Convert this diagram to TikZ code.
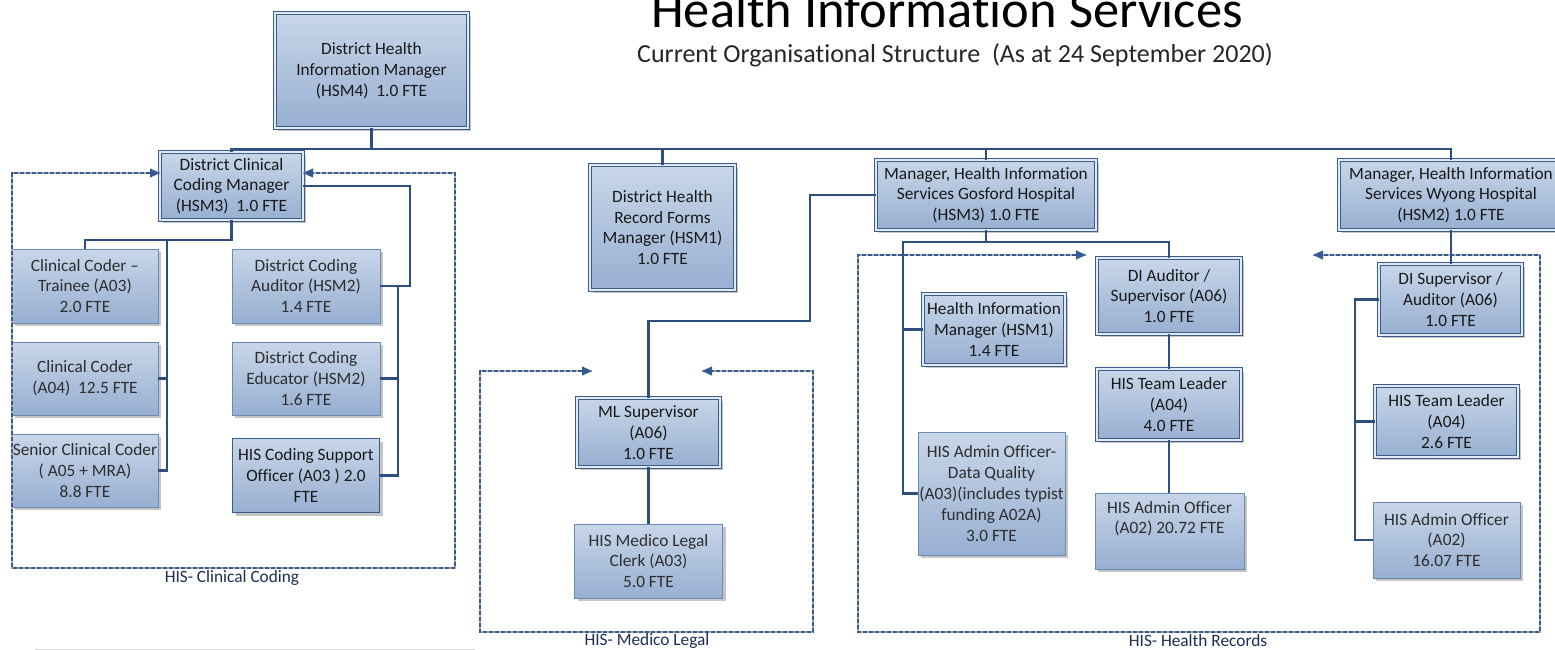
\documentclass[tikz,border=0pt]{standalone}
\usepackage{fontspec}
\setmainfont[Ligatures={TeX,NoCommon}]{Carlito}
\usetikzlibrary{arrows.meta,shadows}
\definecolor{topc}{HTML}{C8D6E9}
\definecolor{botc}{HTML}{97AFD1}
\definecolor{bordc}{HTML}{6A89B5}
\definecolor{darkb}{HTML}{3A5C8C}
\definecolor{linec}{HTML}{2C4F80}
\definecolor{dashc}{HTML}{355A92}
\definecolor{txtc}{HTML}{2E2E2E}
\definecolor{labc}{HTML}{1F2D55}
\newcommand{\boxfont}{\fontsize{17.3}{20.8}\selectfont}
\begin{document}
\begin{tikzpicture}[x=1pt,y=-1pt,
  unit/.style={inner sep=0pt, outer sep=0pt, align=center, font=\boxfont, text=txtc},
  wh/.style 2 args={minimum width=#1pt, minimum height=#2pt},
  sbox/.style={unit, draw=bordc, line width=0.8pt, top color=topc, bottom color=botc,
     drop shadow={shadow xshift=3pt, shadow yshift=-3pt, fill=black!45, opacity=0.5}},
  dbox/.style={sbox, draw=darkb, line width=0.9pt, double=topc!50!white, double distance=2.2pt, text=black!90},
  kbox/.style={sbox, draw=darkb, line width=1.4pt, text=black!90},
  conn/.style={draw=linec, line width=2.6pt},
  dframe/.style={draw=dashc, line width=1.1pt, dash pattern=on 4pt off 2pt,
     {Triangle[length=10pt,width=9pt]}-{Triangle[length=10pt,width=9pt]}},
  dshade/.style={draw=black!30, line width=1.1pt, dash pattern=on 4pt off 2pt, shift={(1.5,1.5)}},
  grp/.style={font=\fontsize{17.3}{20}\selectfont, text=labc, inner sep=0pt}
]
\useasboundingbox (0,0) rectangle (1555,650);
\fill[white] (0,0) rectangle (1555,650);

% titles
\node[anchor=base, font=\fontsize{52.5}{60}\selectfont, text=black] (title) at (947,28) {Health Information Services};
\node[anchor=base, font=\fontsize{26}{30}\selectfont, text=black!85] (sub) at (955,63) {Current Organisational Structure\ \ (As at 24 September 2020)};

% coordinates
\coordinate (bus) at (0,149);
\coordinate (ccY) at (0,240);
\coordinate (ccX) at (167,0);
\coordinate (crX) at (410,0);
\coordinate (crX2) at (398,0);
\coordinate (gmX) at (810,321);
\coordinate (gY) at (0,242);
\coordinate (ghX) at (903,0);
\coordinate (wX) at (1355,0);

\coordinate (cc1) at (12,173);
\coordinate (cc2) at (455,568);
\coordinate (ml1) at (480,371);
\coordinate (ml2) at (813,632);
\coordinate (mlL) at (592,371);
\coordinate (mlR) at (702,371);
\coordinate (hr1) at (858,255);
\coordinate (hr2) at (1540,632);
\coordinate (hrL) at (1086,255);
\coordinate (hrR) at (1313,255);

% top
\node[dbox, wh={193}{115}] (dhim) at (371.5,70.5) {District Health\\Information Manager\\(HSM4)\ \ 1.0 FTE};
\node[dbox, wh={143}{68}] (dccm) at (231.5,186) {District Clinical\\Coding Manager\\(HSM3)\ \ 1.0 FTE};
\node[dbox, wh={145}{125}] (dhrfm) at (662.5,227.5) {District Health\\Record Forms\\Manager (HSM1)\\1.0 FTE};
\node[dbox, wh={220}{70}] (gosford) at (986,195) {Manager, Health Information\\Services Gosford Hospital\\(HSM3) 1.0 FTE};
\node[dbox, wh={224}{70}] (wyong) at (1451,195) {Manager, Health Information\\Services Wyong Hospital\\(HSM2) 1.0 FTE};

% clinical coding
\node[sbox, wh={146}{74}] (trainee) at (85,286) {Clinical Coder \textendash\\Trainee (A03)\\2.0 FTE};
\node[sbox, wh={146}{73}] (coder) at (85,378.5) {Clinical Coder\\(A04)\ \ 12.5 FTE};
\node[sbox, wh={146}{73}] (senior) at (85,470.5) {Senior Clinical Coder\\( A05 + MRA)\\8.8 FTE};
\node[sbox, wh={148}{74}] (auditor) at (306,286) {District Coding\\Auditor (HSM2)\\1.4 FTE};
\node[sbox, wh={148}{73}] (educator) at (306,378.5) {District Coding\\Educator (HSM2)\\1.6 FTE};
\node[kbox, wh={147}{74}] (support) at (306,475.5) {HIS Coding Support\\Officer (A03 ) 2.0\\FTE};

% medico legal
\node[dbox, wh={143}{69}] (mlsup) at (648.5,432.5) {ML Supervisor\\(A06)\\1.0 FTE};
\node[sbox, wh={148}{74}] (clerk) at (648.5,561) {HIS Medico Legal\\Clerk (A03)\\5.0 FTE};

% gosford records
\node[dbox, wh={142}{71}] (him) at (994,329.5) {Health Information\\Manager (HSM1)\\1.4 FTE};
\node[sbox, wh={147}{123}] (dq) at (991.5,493.5) {HIS Admin Officer-\\Data Quality\\(A03)(includes typist\\funding A02A)\\3.0 FTE};
\node[dbox, wh={144}{76}] (diaud) at (1169,296) {DI Auditor /\\Supervisor (A06)\\1.0 FTE};
\node[dbox, wh={144}{71}] (tl1) at (1169,404.5) {HIS Team Leader\\(A04)\\4.0 FTE};
\node[sbox, wh={149}{76}] (adm1) at (1169.5,531) {HIS Admin Officer\\(A02) 20.72 FTE\\\strut};

% wyong records
\node[dbox, wh={143}{71}] (dsup) at (1450.5,299.5) {DI Supervisor /\\Auditor (A06)\\1.0 FTE};
\node[dbox, wh={143}{71}] (tl2) at (1446.5,421.5) {HIS Team Leader\\(A04)\\2.6 FTE};
\node[sbox, wh={147}{76}] (adm2) at (1446.5,540) {HIS Admin Officer\\(A02)\\16.07 FTE};

% dashed frames
\draw[dshade] (dccm.west |- cc1) -- (cc1) |- (cc2) -- (cc2 |- cc1) -- (dccm.east |- cc1);
\draw[dframe] (dccm.west |- cc1) -- (cc1) |- (cc2) -- (cc2 |- cc1) -- (dccm.east |- cc1);
\draw[dshade] (mlL) -- (ml1) |- (ml2) -- (ml2 |- ml1) -- (mlR);
\draw[dframe] (mlL) -- (ml1) |- (ml2) -- (ml2 |- ml1) -- (mlR);
\draw[dshade] (hrL) -- (hr1) |- (hr2) -- (hr2 |- hr1) -- (hrR);
\draw[dframe] (hrL) -- (hr1) |- (hr2) -- (hr2 |- hr1) -- (hrR);

\node[grp] (lcc) at (232,578) {HIS- Clinical Coding};
\node[grp] (lml) at (647,641) {HIS- Medico Legal};
\node[grp] (lhr) at (1198,641) {HIS- Health Records};

% connectors
\draw[conn] (dccm.north) |- (wyong.north |- bus) -- (wyong.north);
\draw[conn] (dhim.south) -- (dhim.south |- bus);
\draw[conn] (dhrfm.north) -- (dhrfm.north |- bus);
\draw[conn] (gosford.north) -- (gosford.north |- bus);

\draw[conn] (dccm.south) -- (dccm.south |- ccY) -| (trainee.north);
\draw[conn] (ccX |- ccY) |- (senior.east);
\draw[conn] (coder.east) -- (coder.east -| ccX);
\draw[conn] (dccm.east) -- (dccm.east -| crX) |- (auditor.east);
\draw[conn] (auditor.east -| crX2) |- (support.east);
\draw[conn] (educator.east) -- (educator.east -| crX2);

\draw[conn] (gosford.west) -| (gmX) -| (mlsup.north);
\draw[conn] (mlsup.south) -- (mlsup.south |- clerk.north);

\draw[conn] (gosford.south) -- (gosford.south |- gY);
\draw[conn] (diaud.north) |- (ghX |- gY) |- (dq.west);
\draw[conn] (him.west) -- (him.west -| ghX);
\draw[conn] (diaud.south) -- (tl1.north);
\draw[conn] (tl1.south) -- (tl1.south |- adm1.north);

\draw[conn] (wyong.south) -- (wyong.south |- dsup.north);
\draw[conn] (dsup.west) -- (dsup.west -| wX) |- (adm2.west);
\draw[conn] (tl2.west) -- (tl2.west -| wX);

\draw[black!15, line width=1pt] (35,649) -- (475,649);
\end{tikzpicture}
\end{document}
